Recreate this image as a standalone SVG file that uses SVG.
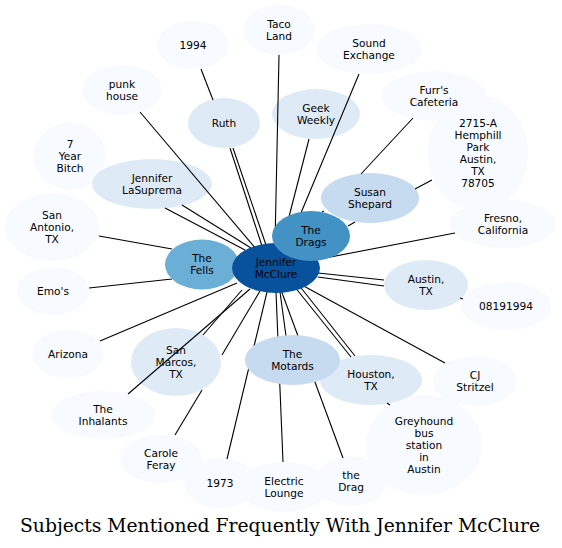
<svg xmlns="http://www.w3.org/2000/svg" width="562" height="548" viewBox="0 0 562 548">
<style>
text{font-family:"DejaVu Sans","Noto Sans",sans-serif;font-size:10.6px;text-anchor:middle;fill:#000}
.l{fill:#f7fbff}.m1{fill:#deebf7}.m2{fill:#c6dbef}.f{fill:#6baed6}.d{fill:#4292c6}.c{fill:#08519c}
#connectors line{stroke:#000;stroke-width:1.1;fill:none}
.title{font-family:"DejaVu Serif",serif;font-size:18.5px}
</style>
<rect width="562" height="548" fill="#fff"/>
<g id="nodes-back">
<g id="taco"><ellipse class="l" cx="279" cy="30" rx="36" ry="25"/><text x="279" y="27.5">Taco</text><text x="279" y="39.5">Land</text></g>
<g id="n1994"><ellipse class="l" cx="193" cy="45" rx="36" ry="24"/><text x="193" y="48.5">1994</text></g>
<g id="sound"><ellipse class="l" cx="369" cy="49" rx="53" ry="25"/><text x="369" y="46.5">Sound</text><text x="369" y="58.5">Exchange</text></g>
<g id="punk"><ellipse class="l" cx="122" cy="90" rx="40" ry="25"/><text x="122" y="87.5">punk</text><text x="122" y="99.5">house</text></g>
<g id="ruth"><ellipse class="m1" cx="224" cy="123" rx="36" ry="25"/><text x="224" y="126.5">Ruth</text></g>
<g id="geek"><ellipse class="m1" cx="316" cy="114" rx="44" ry="25"/><text x="316" y="111.5">Geek</text><text x="316" y="123.5">Weekly</text></g>
<g id="hemphill"><ellipse class="l" cx="478" cy="153" rx="50" ry="58"/><text x="478" y="126.5">2715-A</text><text x="478" y="138.5">Hemphill</text><text x="478" y="150.5">Park</text><text x="478" y="162.5">Austin,</text><text x="478" y="174.5">TX</text><text x="478" y="186.5">78705</text></g>
<g id="furrs"><ellipse class="l" cx="434" cy="96" rx="52" ry="25"/><text x="434" y="93.5">Furr's</text><text x="434" y="105.5">Cafeteria</text></g>
<g id="bitch"><ellipse class="l" cx="70" cy="156" rx="36" ry="34"/><text x="70" y="147.5">7</text><text x="70" y="159.5">Year</text><text x="70" y="171.5">Bitch</text></g>
<g id="lasuprema"><ellipse class="m1" cx="152" cy="184" rx="60" ry="25"/><text x="152" y="181.5">Jennifer</text><text x="152" y="193.5">LaSuprema</text></g>
<g id="susan"><ellipse class="m2" cx="370" cy="198" rx="49" ry="25"/><text x="370" y="195.5">Susan</text><text x="370" y="207.5">Shepard</text></g>
<g id="fresno"><ellipse class="l" cx="503" cy="224" rx="53" ry="24"/><text x="503" y="221.5">Fresno,</text><text x="503" y="233.5">California</text></g>
<g id="sanantonio"><ellipse class="l" cx="52" cy="227" rx="47" ry="34"/><text x="52" y="218.5">San</text><text x="52" y="230.5">Antonio,</text><text x="52" y="242.5">TX</text></g>
<g id="emos"><ellipse class="l" cx="53" cy="291" rx="36" ry="24"/><text x="53" y="294.5">Emo's</text></g>
<g id="arizona"><ellipse class="l" cx="68" cy="354" rx="36" ry="24"/><text x="68" y="357.5">Arizona</text></g>
<g id="date"><ellipse class="l" cx="506" cy="306" rx="45" ry="24"/><text x="506" y="309.5">08191994</text></g>
<g id="austin"><ellipse class="m1" cx="426" cy="285" rx="42" ry="25"/><text x="426" y="282.5">Austin,</text><text x="426" y="294.5">TX</text></g>
<g id="inhalants"><ellipse class="l" cx="103" cy="415" rx="52" ry="24"/><text x="103" y="412.5">The</text><text x="103" y="424.5">Inhalants</text></g>
<g id="sanmarcos"><ellipse class="m1" cx="176" cy="362" rx="45" ry="34"/><text x="176" y="353.5">San</text><text x="176" y="365.5">Marcos,</text><text x="176" y="377.5">TX</text></g>
<g id="cj"><ellipse class="l" cx="475" cy="381" rx="42" ry="25"/><text x="475" y="378.5">CJ</text><text x="475" y="390.5">Stritzel</text></g>
<g id="greyhound"><ellipse class="l" cx="424" cy="445" rx="58" ry="50"/><text x="424" y="424.5">Greyhound</text><text x="424" y="436.5">bus</text><text x="424" y="448.5">station</text><text x="424" y="460.5">in</text><text x="424" y="472.5">Austin</text></g>
<g id="houston"><ellipse class="m1" cx="371" cy="380" rx="51" ry="25"/><text x="371" y="377.5">Houston,</text><text x="371" y="389.5">TX</text></g>
<g id="thedrag"><ellipse class="l" cx="351" cy="481" rx="36" ry="25"/><text x="351" y="478.5">the</text><text x="351" y="490.5">Drag</text></g>
<g id="carole"><ellipse class="l" cx="161" cy="459" rx="41" ry="24"/><text x="161" y="456.5">Carole</text><text x="161" y="468.5">Feray</text></g>
<g id="n1973"><ellipse class="l" cx="220" cy="483" rx="36" ry="25"/><text x="220" y="486.5">1973</text></g>
<g id="electric"><ellipse class="l" cx="284" cy="487" rx="44" ry="25"/><text x="284" y="484.5">Electric</text><text x="284" y="496.5">Lounge</text></g>
</g>
<g id="connectors">
<line x1="279" y1="55" x2="275" y2="244"/>
<line x1="359" y1="74" x2="288" y2="244"/>
<line x1="309" y1="139" x2="282" y2="244"/>
<line x1="230" y1="148" x2="262" y2="246"/>
<line x1="233" y1="148" x2="266" y2="245"/>
<line x1="201" y1="69" x2="213" y2="100"/>
<line x1="140" y1="112" x2="257" y2="250"/>
<line x1="165" y1="208" x2="245" y2="250"/>
<line x1="182" y1="205" x2="251" y2="248"/>
<line x1="99" y1="236" x2="172" y2="249"/>
<line x1="89" y1="288" x2="172" y2="279"/>
<line x1="100" y1="341" x2="237" y2="283"/>
<line x1="128" y1="394" x2="250" y2="289"/>
<line x1="203" y1="335" x2="242" y2="290"/>
<line x1="175" y1="435" x2="202" y2="390"/>
<line x1="222" y1="355" x2="260" y2="291"/>
<line x1="227" y1="459" x2="267" y2="292"/>
<line x1="283" y1="462" x2="276" y2="292"/>
<line x1="343" y1="458" x2="281" y2="290"/>
<line x1="280" y1="292" x2="286" y2="336"/>
<line x1="294" y1="286" x2="351" y2="357"/>
<line x1="298" y1="284" x2="355" y2="356"/>
<line x1="300" y1="284" x2="445" y2="363"/>
<line x1="318" y1="273" x2="384" y2="280"/>
<line x1="318" y1="277" x2="384" y2="286"/>
<line x1="460" y1="298" x2="463" y2="299"/>
<line x1="387" y1="403" x2="390" y2="405"/>
<line x1="320" y1="259" x2="455" y2="233"/>
<line x1="348" y1="226" x2="355" y2="222"/>
<line x1="361" y1="174" x2="413" y2="118"/>
<line x1="415" y1="189" x2="432" y2="180"/>
<line x1="322" y1="212" x2="324" y2="211"/>
</g>
<g id="nodes-front">
<g id="motards"><ellipse class="m2" cx="292.5" cy="360" rx="47.5" ry="25"/><text x="292.5" y="357.5">The</text><text x="292.5" y="369.5">Motards</text></g>
<g id="fells"><ellipse class="f" cx="202" cy="264.5" rx="37" ry="25"/><text x="202" y="262">The</text><text x="202" y="274">Fells</text></g>
<g id="center"><ellipse class="c" cx="276" cy="268" rx="44" ry="25"/><text x="276" y="265.5">Jennifer</text><text x="276" y="277.5">McClure</text></g>
<g id="drags"><ellipse class="d" cx="311" cy="236" rx="39" ry="25"/><text x="311" y="233.5">The</text><text x="311" y="245.5">Drags</text></g>
</g>
<text class="title" x="280" y="532" textLength="520" lengthAdjust="spacingAndGlyphs">Subjects Mentioned Frequently With Jennifer McClure</text>
</svg>
